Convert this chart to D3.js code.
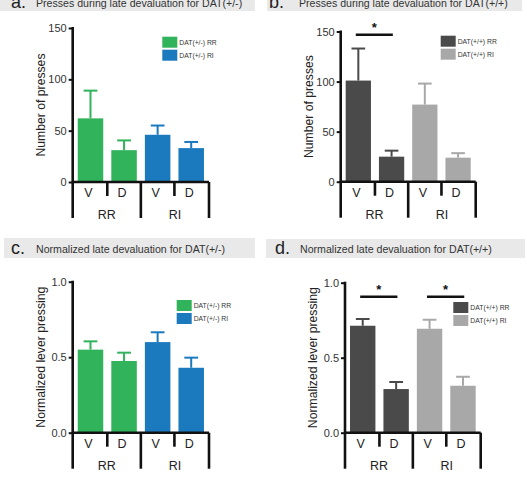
<!DOCTYPE html>
<html>
<head>
<meta charset="utf-8">
<script src="https://cdn.jsdelivr.net/npm/d3@7"></script>
<style>
  body { margin: 0; background: #fff; }
  svg { display: block; font-family: "Liberation Sans", Arial, sans-serif; }
</style>
</head>
<body>
<svg id="chart" width="527" height="480"></svg>
<script>
// Bars: V/D within each schedule group RR / RI
const groups = ['RR', 'RI'];
const conditions = ['V', 'D'];

// a. presses, DAT(+/-)
const pressHetMean = [62, 31, 46, 33];
const pressHetSem = [27, 9.5, 9, 6];
// b. presses, DAT(+/+)
const pressWtMean = [101, 25, 77, 24];
const pressWtSem = [32, 6, 21, 4.5];
// c. normalized, DAT(+/-)
const normHetMean = [0.55, 0.475, 0.60, 0.43];
const normHetSem = [0.055, 0.055, 0.065, 0.067];
// d. normalized, DAT(+/+)
const normWtMean = [0.713, 0.291, 0.693, 0.313];
const normWtSem = [0.045, 0.047, 0.06, 0.06];

const pressTicks = [0, 50, 100, 150];
const normTicks = [0, 0.5, 1.0];

const hetLegend = ['DAT(+/-) RR', 'DAT(+/-) RI'];
const wtLegend = ['DAT(+/+) RR', 'DAT(+/+) RI'];
const hetColors = ['#31b35b', '#1b79bd'];
const wtColors = ['#4a4a4a', '#a8a8a8'];

const svg = d3.select('#chart');

// one panel of the figure
function drawPanel(p) {
  // title bar
  svg.append('rect')
    .attr('x', p.bar.x).attr('y', p.bar.y)
    .attr('width', p.bar.w).attr('height', p.bar.h)
    .attr('fill', '#e9e9e9');
  svg.append('text')
    .attr('x', p.letter.x).attr('y', p.letter.y)
    .attr('font-size', 18).attr('fill', '#222')
    .text(p.letter.t);
  svg.append('text')
    .attr('x', p.title.x).attr('y', p.title.y)
    .attr('font-size', 10.6).attr('fill', '#333')
    .text(p.title.t);

  const y = d3.scaleLinear().domain([0, p.yMax]).range([p.y0, p.yTop]);
  const x = d3.scaleBand()
    .domain(d3.range(4))
    .range([p.x0, p.x1])
    .paddingInner(0.24).paddingOuter(0.15);
  const colorOf = i => p.colors[Math.floor(i / 2)];

  // bars
  svg.append('g').selectAll('rect')
    .data(p.mean)
    .join('rect')
    .attr('x', (d, i) => x(i))
    .attr('y', d => y(d))
    .attr('width', x.bandwidth())
    .attr('height', d => p.y0 - y(d))
    .attr('fill', (d, i) => colorOf(i));

  // upper error bars
  const err = svg.append('g').attr('stroke-width', 2);
  p.mean.forEach((m, i) => {
    const cx = x(i) + x.bandwidth() / 2;
    const top = y(m + p.sem[i]);
    const cap = x.bandwidth() * 0.27;
    err.append('line')
      .attr('x1', cx).attr('x2', cx)
      .attr('y1', y(m)).attr('y2', top)
      .attr('stroke', colorOf(i));
    err.append('line')
      .attr('x1', cx - cap).attr('x2', cx + cap)
      .attr('y1', top).attr('y2', top)
      .attr('stroke', colorOf(i));
  });

  // y axis
  const yAxis = svg.append('g')
    .attr('transform', `translate(${p.x0},0)`)
    .call(d3.axisLeft(y).tickValues(p.ticks).tickSize(4).tickPadding(2)
      .tickFormat(p.fmt));
  yAxis.select('.domain').remove();
  yAxis.selectAll('.tick line').attr('stroke', '#111').attr('stroke-width', 2);
  yAxis.selectAll('.tick text')
    .attr('font-family', '"Liberation Sans", Arial, sans-serif')
    .attr('font-size', 11).attr('fill', '#333');

  const axisG = svg.append('g')
    .attr('stroke', '#111').attr('stroke-width', 2.6).attr('fill', 'none');
  const bottom = p.y0 + 36;
  axisG.append('line').attr('x1', p.x0).attr('x2', p.x0)
    .attr('y1', y(p.yMax) - 1).attr('y2', bottom);
  axisG.append('line').attr('x1', p.x0 - 1).attr('x2', p.x1)
    .attr('y1', p.y0).attr('y2', p.y0);
  axisG.append('line').attr('x1', p.x1).attr('x2', p.x1)
    .attr('y1', p.y0).attr('y2', bottom);
  // group separator between RR and RI
  const mid = (x(1) + x.bandwidth() + x(2)) / 2;
  axisG.append('line').attr('x1', mid).attr('x2', mid)
    .attr('y1', p.y0).attr('y2', bottom);
  // V | D separators
  [0, 2].forEach(i => {
    const s = (x(i) + x.bandwidth() + x(i + 1)) / 2;
    axisG.append('line').attr('x1', s).attr('x2', s)
      .attr('y1', p.y0).attr('y2', p.y0 + 14);
  });

  // category labels
  d3.range(4).forEach(i => {
    svg.append('text')
      .attr('x', x(i) + x.bandwidth() / 2 - 2).attr('y', p.y0 + 15)
      .attr('text-anchor', 'middle').attr('font-size', 12.5).attr('fill', '#222')
      .text(conditions[i % 2]);
  });
  groups.forEach((g, gi) => {
    const cx = gi === 0 ? (p.x0 + mid) / 2 : (mid + p.x1) / 2;
    svg.append('text')
      .attr('x', cx).attr('y', p.y0 + 37)
      .attr('text-anchor', 'middle').attr('font-size', 12.5).attr('fill', '#222')
      .text(g);
  });

  // y label
  svg.append('text')
    .attr('transform', `translate(${p.yLabelX},${(p.yTop + p.y0) / 2}) rotate(-90)`)
    .attr('text-anchor', 'middle').attr('font-size', 12.2).attr('fill', '#222')
    .text(p.yLabel);

  // legend
  p.legend.forEach((t, i) => {
    const ly = p.leg.y + i * 13;
    svg.append('rect')
      .attr('x', p.leg.x).attr('y', ly)
      .attr('width', 15).attr('height', 11)
      .attr('fill', p.colors[i]);
    svg.append('text')
      .attr('x', p.leg.x + 17).attr('y', ly + 8)
      .attr('font-size', 6.8).attr('fill', '#333')
      .text(t);
  });

  // significance marks
  p.sig.forEach(([a, b]) => {
    const xa = x(a) + x.bandwidth() * 0.4;
    const xb = x(b) + x.bandwidth() * 0.55;
    svg.append('line')
      .attr('x1', xa).attr('x2', xb)
      .attr('y1', p.sigY).attr('y2', p.sigY)
      .attr('stroke', '#111').attr('stroke-width', 2.5);
    svg.append('text')
      .attr('x', (xa + xb) / 2).attr('y', p.sigY - 3)
      .attr('text-anchor', 'middle').attr('font-size', 13).attr('font-weight', 'bold')
      .attr('fill', '#111')
      .text('*');
  });
}

const fmt0 = d3.format('d');
const fmt1 = d3.format('.1f');

drawPanel({
  bar: { x: 0, y: 0, w: 255, h: 11 },
  letter: { x: 11, y: 8, t: 'a.' },
  title: { x: 36, y: 7, t: 'Presses during late devaluation for DAT(+/-)' },
  mean: pressHetMean, sem: pressHetSem, colors: hetColors, legend: hetLegend,
  yMax: 150, ticks: pressTicks, fmt: fmt0,
  x0: 72.7, x1: 209, y0: 182, yTop: 28,
  yLabel: 'Number of presses', yLabelX: 45,
  leg: { x: 162.3, y: 36.7 }, sig: [], sigY: 0
});

drawPanel({
  bar: { x: 267, y: 0, w: 255, h: 11 },
  letter: { x: 269, y: 8, t: 'b.' },
  title: { x: 299, y: 7, t: 'Presses during late devaluation for DAT(+/+)' },
  mean: pressWtMean, sem: pressWtSem, colors: wtColors, legend: wtLegend,
  yMax: 150, ticks: pressTicks, fmt: fmt0,
  x0: 340.7, x1: 475.7, y0: 181.7, yTop: 31.5,
  yLabel: 'Number of presses', yLabelX: 313,
  leg: { x: 440.7, y: 35.7 }, sig: [[0, 1]], sigY: 34.7
});

drawPanel({
  bar: { x: 4, y: 238, w: 251, h: 20 },
  letter: { x: 11, y: 254, t: 'c.' },
  title: { x: 36, y: 253, t: 'Normalized late devaluation for DAT(+/-)' },
  mean: normHetMean, sem: normHetSem, colors: hetColors, legend: hetLegend,
  yMax: 1, ticks: normTicks, fmt: fmt1,
  x0: 72.7, x1: 209, y0: 432.7, yTop: 281.7,
  yLabel: 'Normalized lever pressing', yLabelX: 45,
  leg: { x: 176.7, y: 300 }, sig: [], sigY: 0
});

drawPanel({
  bar: { x: 266, y: 239, w: 259, h: 19 },
  letter: { x: 275, y: 254, t: 'd.' },
  title: { x: 300, y: 253, t: 'Normalized late devaluation for DAT(+/+)' },
  mean: normWtMean, sem: normWtSem, colors: wtColors, legend: wtLegend,
  yMax: 1, ticks: normTicks, fmt: fmt1,
  x0: 345, x1: 480.7, y0: 432.7, yTop: 282.7,
  yLabel: 'Normalized lever pressing', yLabelX: 317,
  leg: { x: 453.3, y: 302 }, sig: [[0, 1], [2, 3]], sigY: 296.7
});
</script>
</body>
</html>
